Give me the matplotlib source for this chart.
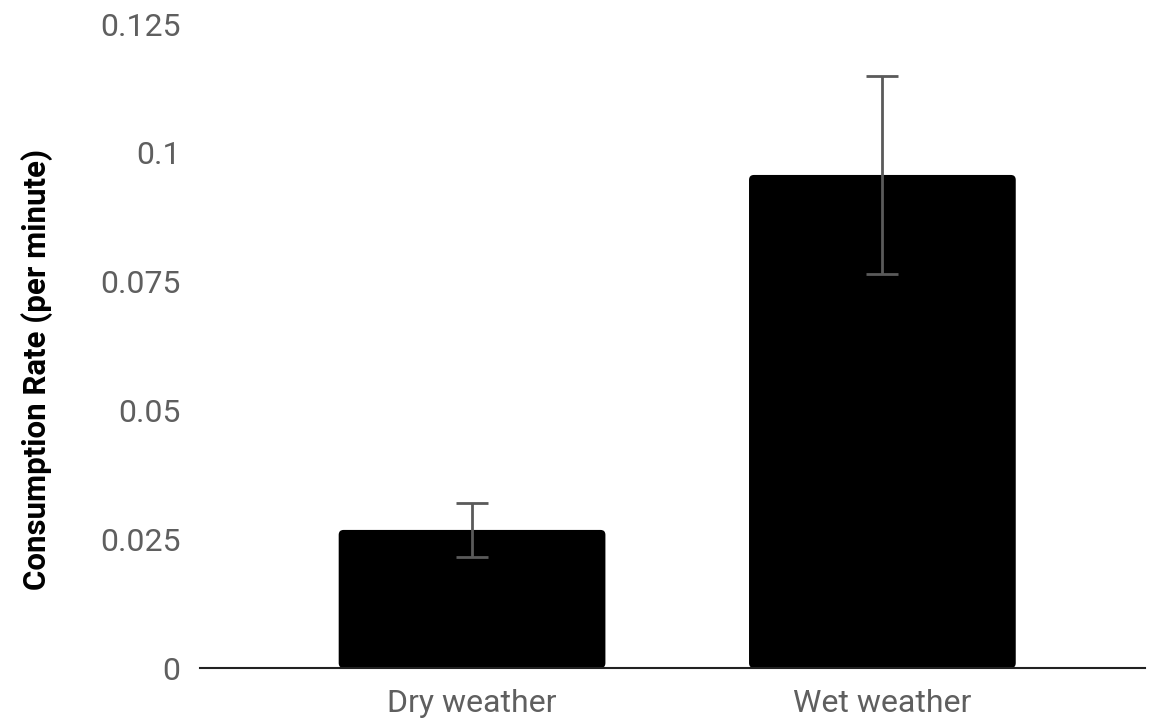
import matplotlib.pyplot as plt
from matplotlib.patches import FancyBboxPatch

categories = ["Dry weather", "Wet weather"]
rates = [0.0268, 0.0957]
errors = [0.0053, 0.0192]
yticks = [0, 0.025, 0.05, 0.075, 0.1, 0.125]
ytick_labels = ["0", "0.025", "0.05", "0.075", "0.1", "0.125"]

plt.rcParams['font.family'] = ['Roboto', 'DejaVu Sans']

fig = plt.figure(figsize=(11.61, 7.21), dpi=100)
ax = fig.add_axes([200 / 1161, 53 / 721, 945 / 1161, 644 / 721])

x = list(range(len(categories)))
bars = ax.bar(x, rates, width=0.65, color='black')

# swap plain bars for slightly rounded ones
for b in bars:
    b.set_visible(False)
    bx, by, bw, bh = b.get_x(), b.get_y(), b.get_width(), b.get_height()
    p = FancyBboxPatch((bx, by), bw, bh,
                       boxstyle="round,pad=0,rounding_size=0.012",
                       mutation_aspect=0.125 / 644 * 410 / 1.0,
                       facecolor='black', edgecolor='none', zorder=2)
    ax.add_patch(p)

ax.errorbar(x, rates, yerr=errors, fmt='none', ecolor='#5a5a5a',
            elinewidth=2, capsize=11.5, capthick=2, zorder=3)

ax.set_xlim(-0.663, 1.64)
ax.set_ylim(0, 0.125)
ax.set_yticks(yticks)
ax.set_yticklabels(ytick_labels)
ax.set_xticks(x)
ax.set_xticklabels(categories)

for s in ['top', 'right', 'left']:
    ax.spines[s].set_visible(False)
ax.spines['bottom'].set_linewidth(1.5)
ax.spines['bottom'].set_color('#222222')
ax.spines['bottom'].set_zorder(4)

ax.tick_params(axis='y', length=0, pad=14, labelsize=23, labelcolor='#5f5f5f')
ax.tick_params(axis='x', length=0, pad=15, labelsize=23, labelcolor='#5f5f5f')

ax.set_ylabel("Consumption Rate (per minute)", fontsize=22.5, fontweight='bold',
              color='black')
ax.yaxis.set_label_coords(-0.156, 0.464)

fig.savefig("out.png", dpi=100)
